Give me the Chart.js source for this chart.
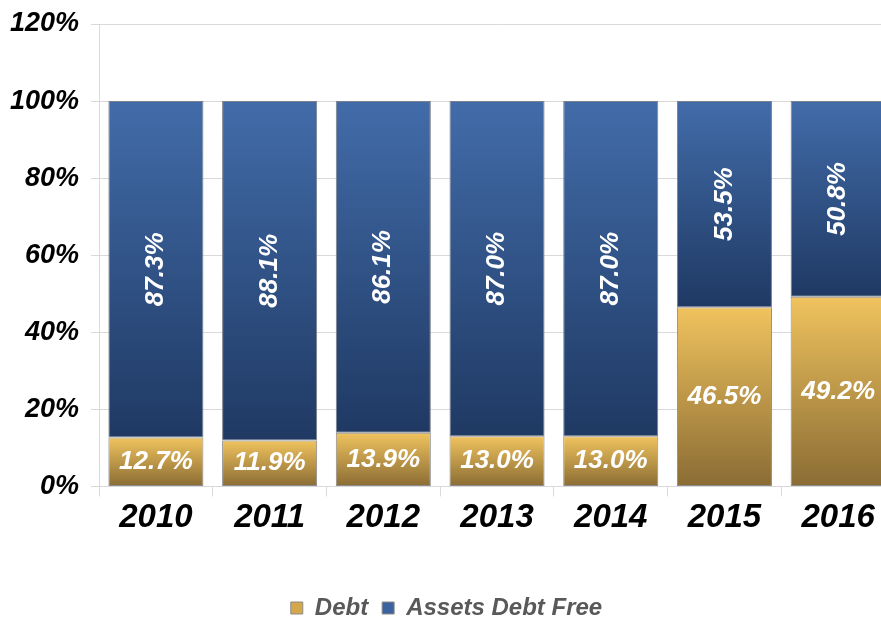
<!DOCTYPE html>
<html>
<head>
<meta charset="utf-8">
<script src="https://cdn.jsdelivr.net/npm/chart.js@4/dist/chart.umd.min.js"></script>
<style>
  html, body { margin: 0; padding: 0; background: #fff; overflow: hidden; }
  #wrap { width: 922px; height: 618px; }
</style>
</head>
<body>
<div id="wrap"><canvas id="js-chart"></canvas></div>
<script>
"use strict";

// 年ごとのデータ
const years = ["2010", "2011", "2012", "2013", "2014", "2015", "2016"];
const debt = [12.7, 11.9, 13.9, 13.0, 13.0, 46.5, 49.2];
const assetsDebtFree = [87.3, 88.1, 86.1, 87.0, 87.0, 53.5, 50.8];
const yTicks = [0, 20, 40, 60, 80, 100, 120];

const FONT = "'Liberation Sans', 'DejaVu Sans', sans-serif";

// 各セグメントごとに縦グラデーション
function segGradient(colTop, colBottom) {
  return function (context) {
    const chart = context.chart;
    const area = chart.chartArea;
    if (!area || context.type !== "data") return colTop;
    const y = chart.scales.y;
    const ds = context.datasetIndex;
    const i = context.dataIndex;
    let start = 0;
    for (let d = 0; d < ds; d++) start += chart.data.datasets[d].data[i];
    const end = start + chart.data.datasets[ds].data[i];
    const yTop = y.getPixelForValue(Math.min(end, 100));
    const yBot = y.getPixelForValue(start);
    const g = chart.ctx.createLinearGradient(0, yTop, 0, yBot);
    g.addColorStop(0, colTop);
    g.addColorStop(1, colBottom);
    return g;
  };
}

// ラベル描画
const labelPlugin = {
  id: "segLabels",
  afterDatasetsDraw(chart) {
    const ctx = chart.ctx;
    ctx.save();
    ctx.fillStyle = "#ffffff";
    ctx.font = "italic bold 26px " + FONT;
    ctx.textAlign = "center";
    ctx.textBaseline = "middle";
    chart.data.datasets.forEach((ds, d) => {
      const meta = chart.getDatasetMeta(d);
      meta.data.forEach((bar, i) => {
        const cy = (bar.y + bar.base) / 2;
        const txt = ds.data[i].toFixed(1) + "%";
        ctx.save();
        ctx.translate(bar.x, cy);
        if (d === 1) ctx.rotate(-Math.PI / 2);
        ctx.fillText(txt, 0, 0);
        ctx.restore();
      });
    });
    ctx.restore();
  },
};

const ctx = document.getElementById("js-chart").getContext("2d");
const chart = new Chart(ctx, {
  type: "bar",
  data: {
    labels: years,
    datasets: [
      {
        label: "Debt",
        data: debt,
        backgroundColor: segGradient("#f0c35e", "#8a6c34"),
        borderColor: "#8c8c8c",
        borderWidth: 1,
        borderSkipped: false,
      },
      {
        label: "Assets Debt Free",
        data: assetsDebtFree,
        backgroundColor: segGradient("#426ca9", "#1f3963"),
        borderColor: "#7a7f88",
        borderWidth: 1,
        borderSkipped: false,
      },
    ],
  },
  options: {
    responsive: true,
    maintainAspectRatio: false,
    animation: false,
    datasets: { bar: { barPercentage: 0.836, categoryPercentage: 1 } },
    layout: { padding: { top: 0, right: 27, left: -2, bottom: -12 } },
    scales: {
      x: {
        stacked: true,
        grid: { color: "#d9d9d9", offset: true, drawOnChartArea: false, tickLength: 10 },
        border: { color: "#d9d9d9" },
        ticks: {
          color: "#000",
          font: { family: FONT, size: 33, style: "italic", weight: "bold" },
          padding: 2,
        },
        afterFit(scale) {
          scale.height += 42;
        },
      },
      y: {
        stacked: true,
        min: 0,
        max: 120,
        afterBuildTicks(axis) {
          axis.ticks = yTicks.map((v) => ({ value: v }));
        },
        afterFit(scale) {
          scale.paddingTop = 24;
        },
        grid: { color: "#d9d9d9", tickLength: 8 },
        border: { color: "#d9d9d9" },
        ticks: {
          color: "#000",
          font: { family: FONT, size: 27, style: "italic", weight: "bold" },
          padding: 12,
          callback: (v) => v + "%",
        },
      },
    },
    plugins: {
      legend: {
        position: "bottom",
        labels: {
          color: "#595959",
          boxWidth: 12,
          boxHeight: 12,
          padding: 14,
          font: { family: FONT, size: 24, style: "italic", weight: "bold" },
          generateLabels(chart) {
            const cols = ["#d4a84a", "#3a629c"];
            return chart.data.datasets.map((ds, i) => ({
              text: ds.label,
              fillStyle: cols[i],
              strokeStyle: "#8c8c8c",
              lineWidth: 1,
              datasetIndex: i,
              fontColor: "#595959",
            }));
          },
        },
      },
      tooltip: { enabled: false },
    },
  },
  plugins: [labelPlugin],
});
</script>
</body>
</html>
